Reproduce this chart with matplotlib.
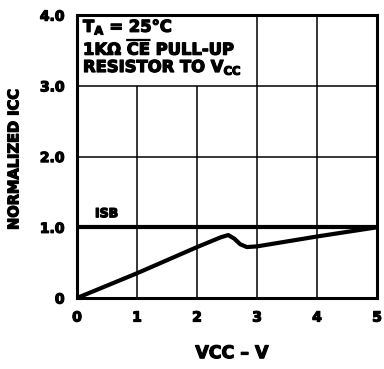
import matplotlib
matplotlib.use("Agg")
import matplotlib.pyplot as plt
import matplotlib.patheffects as pe

# Supply current versus supply voltage, normalized
vcc = [0.0, 1.0, 2.0, 2.4, 2.52, 2.62, 2.72, 2.83, 3.0, 4.0, 5.0]
icc = [0.0, 0.35, 0.72, 0.86, 0.89, 0.84, 0.76, 0.72, 0.73, 0.87, 1.0]

# Standby current level
isb_vcc = [0.0, 5.0]
isb = [1.0, 1.0]

x_ticks = [0, 1, 2, 3, 4, 5]
x_tick_labels = ["0", "1", "2", "3", "4", "5"]
y_ticks = [0, 1, 2, 3, 4]
y_tick_labels = ["0", "1.0", "2.0", "3.0", "4.0"]

plt.rcParams["font.family"] = "DejaVu Sans"
plt.rcParams["font.weight"] = "bold"
plt.rcParams["mathtext.default"] = "bf"

heavy = [pe.withStroke(linewidth=0.9, foreground="black")]

fig = plt.figure(figsize=(3.84, 3.69), dpi=100)
ax = fig.add_axes([0.2005, 0.1924, 0.7815, 0.7666])
ax.set_xlim(0, 5)
ax.set_ylim(0, 4)

# grid: the note box covers the upper-left cells
grid_kw = dict(color="black", linewidth=1.1, zorder=1)
ax.vlines([1, 2], 0, 3, **grid_kw)
ax.vlines([3, 4], 0, 4, **grid_kw)
ax.hlines([2, 3], 0, 5, **grid_kw)

ax.plot(isb_vcc, isb, color="black", linewidth=3.0, solid_capstyle="butt", zorder=3)
ax.plot(vcc, icc, color="black", linewidth=3.0, solid_joinstyle="round", zorder=3)

for s in ax.spines.values():
    s.set_linewidth(2.2)

ax.set_xticks(x_ticks)
ax.set_xticklabels(x_tick_labels, fontsize=10, fontweight="bold")
ax.set_yticks(y_ticks)
ax.set_yticklabels(y_tick_labels, fontsize=10, fontweight="bold")
ax.tick_params(length=0, pad=9)
for lbl in ax.get_xticklabels() + ax.get_yticklabels():
    lbl.set_path_effects(heavy)

ax.text(0.3, 1.1, "ISB", fontsize=9, fontweight="bold", ha="left", va="bottom",
        path_effects=heavy)

note_kw = dict(fontsize=11.8, fontweight="bold", ha="left", va="center", path_effects=heavy)
ax.text(0.1, 3.83, r"T$_\mathbf{A}$ = 25°C", **note_kw)
ax.text(0.1, 3.54, r"1KΩ $\overline{\mathbf{CE}}$ PULL-UP", **note_kw)
ax.text(0.1, 3.26, r"RESISTOR TO V$_\mathbf{CC}$", **note_kw)

fig.text(0.036, 0.569, "NORMALIZED ICC", rotation=90, fontsize=10.5, fontweight="bold",
         ha="center", va="center", path_effects=heavy)
fig.text(0.604, 0.043, "VCC – V", fontsize=12.5, fontweight="bold", ha="center", va="center",
         path_effects=heavy)

fig.savefig("out.png", dpi=100)
